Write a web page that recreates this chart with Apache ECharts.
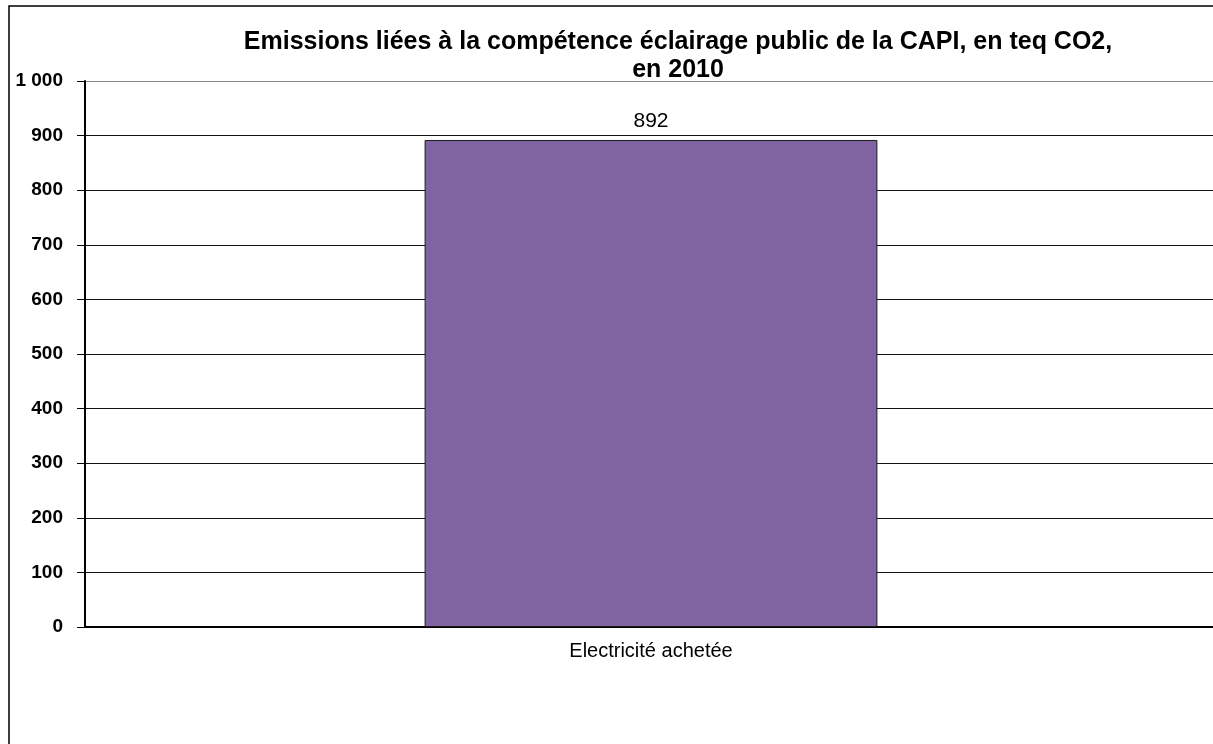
<!DOCTYPE html>
<html>
<head>
<meta charset="utf-8">
<script src="https://cdn.jsdelivr.net/npm/echarts@6/dist/echarts.min.js"></script>
<style>
  html, body { margin: 0; padding: 0; background: #fff; overflow: hidden; }
  #chart { width: 1217px; height: 744px; }
</style>
</head>
<body>
<div id="chart"></div>
<script>
// données
const categories = ['Electricité achetée'];
const emissions = [892];
const yMin = 0;
const yMax = 1000;
const yStep = 100;

const myChart = echarts.init(document.getElementById('chart'));

// la ligne du haut (1 000) est grise, les autres noires
const gridColors = ['#111', '#111', '#111', '#111', '#111', '#111',
                    '#111', '#111', '#111', '#111', '#888'];

const option = {
    backgroundColor: '#fff',
    animation: false,
    title: {
        text: 'Emissions liées à la compétence éclairage public de la CAPI, en teq CO2,\nen 2010',
        left: 673,
        top: 23,
        textAlign: 'center',
        textStyle: {
            fontFamily: 'Liberation Sans',
            fontSize: 25,
            fontWeight: 'bold',
            color: '#000',
            lineHeight: 28
        }
    },
    graphic: [
        {
            type: 'rect',
            shape: { x: 9, y: 6, width: 1400, height: 1000 },
            style: { fill: 'none', stroke: '#000', lineWidth: 1.5 },
            z: 100
        }
    ],
    grid: {
        left: 85,
        right: 0,
        top: 81,
        bottom: 117,
        containLabel: false
    },
    xAxis: {
        type: 'category',
        data: categories,
        axisLine: { lineStyle: { color: '#000', width: 2 } },
        axisTick: { show: false },
        axisLabel: {
            margin: 14,
            fontFamily: 'Liberation Sans',
            fontSize: 20,
            color: '#000'
        }
    },
    yAxis: {
        type: 'value',
        min: yMin,
        max: yMax,
        interval: yStep,
        axisLine: { show: true, lineStyle: { color: '#000', width: 2 } },
        axisTick: { show: true, length: 8, lineStyle: { color: '#000', width: 1 } },
        splitLine: { lineStyle: { color: gridColors, width: 1 } },
        axisLabel: {
            margin: 22,
            fontFamily: 'Liberation Sans',
            fontSize: 19,
            fontWeight: 'bold',
            color: '#000',
            formatter: function (v) {
                return String(v).replace(/\B(?=(\d{3})+(?!\d))/g, ' ');
            }
        }
    },
    series: [
        {
            type: 'bar',
            data: emissions,
            barWidth: '40%',
            itemStyle: {
                color: '#8064A2',
                borderColor: '#1a1a1a',
                borderWidth: 1
            },
            label: {
                show: true,
                position: 'top',
                distance: 8,
                fontFamily: 'Liberation Sans',
                fontSize: 21,
                color: '#000'
            }
        }
    ]
};

myChart.setOption(option);
</script>
</body>
</html>
